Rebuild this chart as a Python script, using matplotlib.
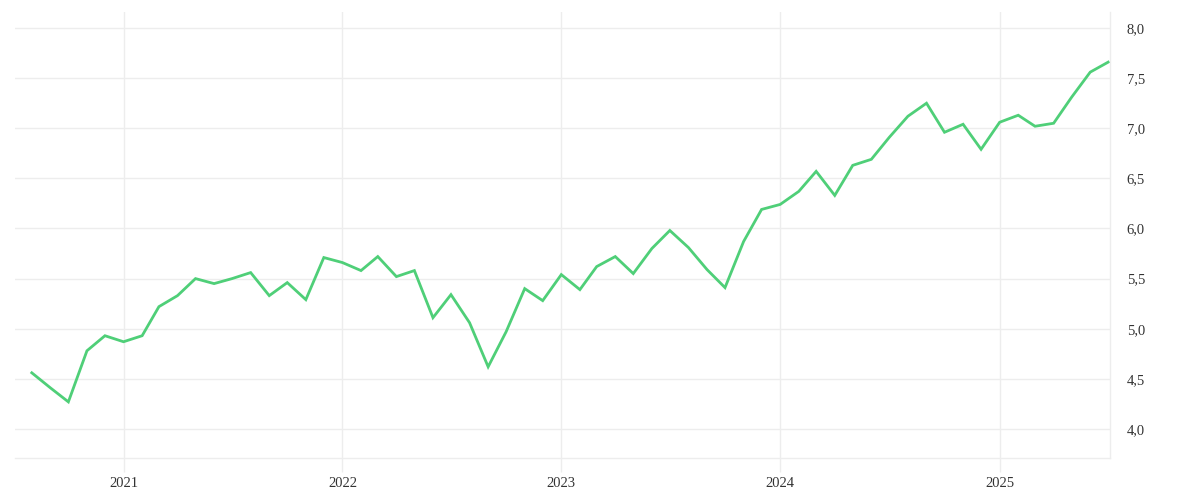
import matplotlib.pyplot as plt
import matplotlib.dates as mdates
import matplotlib.ticker as mticker
import numpy as np
import pandas as pd

# monthly values, Aug 2020 .. Jul 2025
start_month = '2020-08-01'
values = [
    4.56, 4.41, 4.27, 4.78, 4.93,
    4.87, 4.93, 5.22, 5.33, 5.50, 5.45, 5.50, 5.56, 5.33, 5.46, 5.29, 5.71,
    5.66, 5.58, 5.72, 5.52, 5.58, 5.11, 5.34, 5.06, 4.62, 4.97, 5.40, 5.28,
    5.54, 5.39, 5.62, 5.72, 5.55, 5.80, 5.98, 5.81, 5.59, 5.41, 5.87, 6.19,
    6.24, 6.37, 6.57, 6.33, 6.63, 6.69, 6.91, 7.12, 7.25, 6.96, 7.04, 6.79,
    7.06, 7.13, 7.02, 7.05, 7.31, 7.56, 7.66,
]
y_ticks = [4.0, 4.5, 5.0, 5.5, 6.0, 6.5, 7.0, 7.5, 8.0]
x_years = ['2021', '2022', '2023', '2024', '2025']

dates = pd.date_range(start_month, periods=len(values), freq='MS')

line_color = '#4fcf78'
grid_color = '#ededed'
text_color = '#333333'

fig = plt.figure(figsize=(12, 5), dpi=100)
ax = fig.add_axes([0.0125, 0.084, 0.9125, 0.892])

ax.plot(dates, values, color=line_color, linewidth=2.0, solid_joinstyle='miter')

ax.set_xlim(dates[0] - pd.Timedelta(days=28), dates[-1] + pd.Timedelta(days=3))
ax.set_ylim(3.71, 8.16)

ax.set_xticks([pd.Timestamp(y + '-01-01') for y in x_years])
ax.xaxis.set_major_formatter(mdates.DateFormatter('%Y'))
ax.set_yticks(y_ticks)
ax.yaxis.set_major_formatter(mticker.FuncFormatter(lambda v, p: ('%.1f' % v).replace('.', ',')))

ax.yaxis.tick_right()
ax.grid(True, color=grid_color, linewidth=1)
ax.set_axisbelow(True)

for side in ['top', 'left']:
    ax.spines[side].set_visible(False)
for side in ['bottom', 'right']:
    ax.spines[side].set_color(grid_color)
    ax.spines[side].set_linewidth(1)

ax.tick_params(axis='x', length=10, color=grid_color, width=1, pad=4,
               labelsize=10.5, labelcolor=text_color)
ax.tick_params(axis='y', length=0, pad=12, labelsize=10.5, labelcolor=text_color)
for lbl in ax.get_xticklabels() + ax.get_yticklabels():
    lbl.set_family('Liberation Serif')

fig.savefig('out.png', dpi=100, facecolor='white')
